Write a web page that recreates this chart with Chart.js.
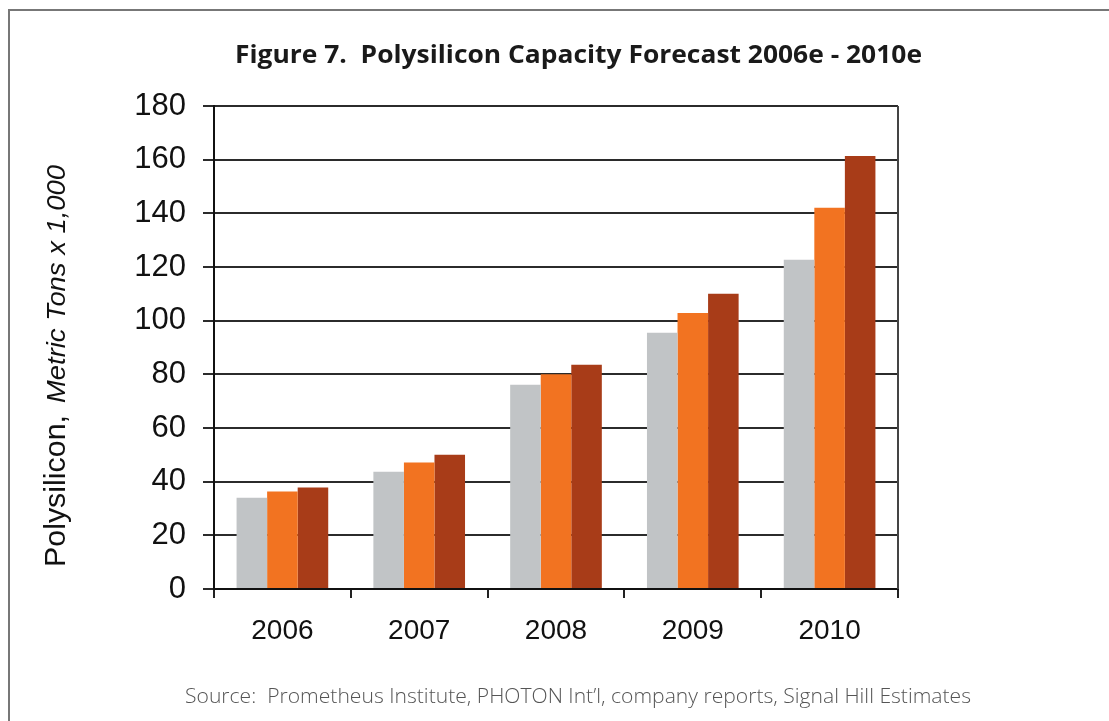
<!DOCTYPE html>
<html>
<head>
<meta charset="utf-8">
<script src="https://cdn.jsdelivr.net/npm/chart.js@4/dist/chart.umd.min.js"></script>
<style>
  html, body { margin: 0; padding: 0; background: #fff; }
  canvas { display: block; }
</style>
</head>
<body>
<canvas id="c" width="1109" height="721"></canvas>
<script>
const categories = ["2006", "2007", "2008", "2009", "2010"];
const seriesLow  = [34.0, 43.7, 76.1, 95.5, 122.7];
const seriesMid  = [36.3, 47.1, 80.0, 102.9, 142.1];
const seriesHigh = [37.8, 50.0, 83.6, 110.0, 161.4];
const yTicks = [0, 20, 40, 60, 80, 100, 120, 140, 160, 180];

const titleText = "Figure 7.  Polysilicon Capacity Forecast 2006e - 2010e";
const sourceText = "Source:  Prometheus Institute, PHOTON Int\u2019l, company reports, Signal Hill Estimates";
const yTitleMain = "Polysilicon,";
const yTitleItalic = "Metric Tons x 1,000";

function drawFit(ctx, text, font, cx, cy, targetW, color) {
  ctx.save();
  ctx.font = font;
  const w = ctx.measureText(text).width;
  ctx.translate(cx, cy);
  ctx.scale(targetW / w, 1);
  ctx.fillStyle = color;
  ctx.textAlign = "center";
  ctx.textBaseline = "middle";
  ctx.fillText(text, 0, 0);
  ctx.restore();
}

function drawFitLeft(ctx, text, font, x, y, targetW) {
  ctx.save();
  ctx.font = font;
  const w = ctx.measureText(text).width;
  ctx.translate(x, y);
  ctx.scale(targetW / w, 1);
  ctx.fillText(text, 0, 0);
  ctx.restore();
}

const decor = {
  id: "decor",
  beforeDraw(chart) {
    const ctx = chart.ctx;
    ctx.save();
    ctx.fillStyle = "#fff";
    ctx.fillRect(0, 0, chart.width, chart.height);
    ctx.restore();
  },
  afterDraw(chart) {
    const ctx = chart.ctx;
    const a = chart.chartArea;
    // frame
    ctx.save();
    ctx.strokeStyle = "#777";
    ctx.lineWidth = 2;
    ctx.beginPath();
    ctx.moveTo(9, chart.height + 5);
    ctx.lineTo(9, 10);
    ctx.lineTo(chart.width + 5, 10);
    ctx.stroke();
    // right border of plot
    ctx.strokeStyle = "#444";
    ctx.lineWidth = 2;
    ctx.beginPath();
    ctx.moveTo(a.right, a.top);
    ctx.lineTo(a.right, a.bottom);
    ctx.stroke();
    ctx.restore();

    // title
    drawFit(ctx, titleText, "bold 25px 'Open Sans', 'Noto Sans', sans-serif", 578.5, 56, 687, "#1a1a1a");
    // source
    drawFit(ctx, sourceText, "300 21px 'Open Sans', 'Noto Sans', sans-serif", 578, 697, 786, "#555");

    // y axis title (rotated, mixed styles)
    ctx.save();
    ctx.translate(65, 567);
    ctx.rotate(-Math.PI / 2);
    ctx.fillStyle = "#111";
    ctx.textAlign = "left";
    ctx.textBaseline = "alphabetic";
    drawFitLeft(ctx, yTitleMain, "30px 'Liberation Sans', Arial, sans-serif", 0, 0, 152);
    drawFitLeft(ctx, yTitleItalic, "italic 26px 'Liberation Sans', Arial, sans-serif", 164, 0, 238);
    ctx.restore();
  }
};

new Chart(document.getElementById("c"), {
  type: "bar",
  data: {
    labels: categories,
    datasets: [
      { label: "Low", data: seriesLow, backgroundColor: "#C1C4C6" },
      { label: "Base", data: seriesMid, backgroundColor: "#F27321" },
      { label: "High", data: seriesHigh, backgroundColor: "#A83C18" }
    ]
  },
  options: {
    responsive: false,
    devicePixelRatio: 1,
    animation: false,
    datasets: { bar: { categoryPercentage: 0.67, barPercentage: 1.0, borderWidth: 0 } },
    layout: { padding: { left: 0, top: 106, right: 211, bottom: 72 } },
    plugins: { legend: { display: false }, title: { display: false }, tooltip: { enabled: false } },
    scales: {
      x: {
        offset: true,
        grid: { display: true, drawOnChartArea: false, drawTicks: true, tickLength: 9, color: "#222", lineWidth: 2, offset: true },
        border: { display: true, color: "#111", width: 2 },
        ticks: { font: { family: "'Liberation Sans', Arial, sans-serif", size: 28 }, color: "#111", padding: 16 },
        afterFit(scale) { scale.height = 60; }
      },
      y: {
        min: 0,
        max: 180,
        afterBuildTicks(scale) { scale.ticks = yTicks.map(v => ({ value: v })); },
        grid: { color: "#2b2b2b", lineWidth: 2, tickLength: 11, drawTicks: true },
        border: { display: true, color: "#111", width: 2 },
        ticks: { font: { family: "'Liberation Sans', Arial, sans-serif", size: 31 }, color: "#111", padding: 17 },
        afterFit(scale) { scale.width = 214; }
      }
    }
  },
  plugins: [decor]
});
</script>
</body>
</html>
